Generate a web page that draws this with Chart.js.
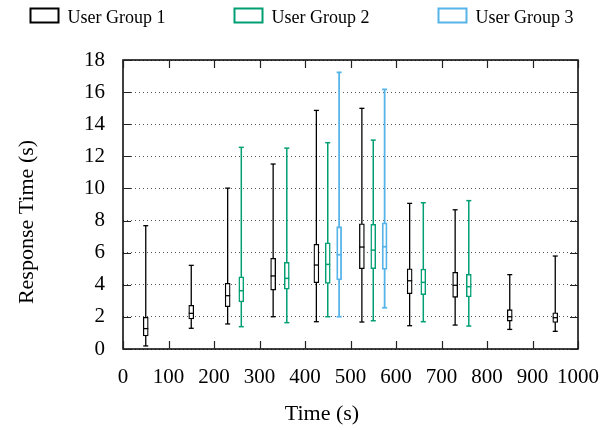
<!DOCTYPE html>
<html><head><meta charset="utf-8">
<script src="https://cdn.jsdelivr.net/npm/chart.js@4.4.1/dist/chart.umd.min.js"></script>
<style>html,body{margin:0;padding:0;background:#fff}</style>
</head><body>
<canvas id="c" width="615" height="430" style="width:615px;height:430px;display:block"></canvas>
<script>
// ---- data ----
const groupLabels = ['User Group 1', 'User Group 2', 'User Group 3'];
const groupColors = ['#000000', '#009e73', '#56b4e9'];

const g1Time = [50, 150, 230, 330, 425, 525, 630, 730, 850, 950];
const g1Min  = [0.19, 1.29, 1.56, 2.01, 1.70, 1.68, 1.45, 1.49, 1.22, 1.10];
const g1Q1   = [0.81, 1.87, 2.64, 3.67, 4.13, 5.00, 3.44, 3.22, 1.74, 1.66];
const g1Med  = [1.27, 2.22, 3.32, 4.55, 5.23, 6.35, 4.25, 3.97, 2.01, 1.95];
const g1Q3   = [1.97, 2.72, 4.09, 5.65, 6.52, 7.80, 5.00, 4.78, 2.45, 2.26];
const g1Max  = [7.68, 5.21, 10.02, 11.52, 14.86, 14.99, 9.07, 8.67, 4.63, 5.79];

const g2Time = [260, 360, 450, 550, 660, 760];
const g2Min  = [1.39, 1.64, 2.01, 1.76, 1.70, 1.43];
const g2Q1   = [2.93, 3.72, 4.09, 5.00, 3.38, 3.24];
const g2Med  = [3.63, 4.40, 5.27, 6.16, 4.15, 3.88];
const g2Q3   = [4.50, 5.40, 6.62, 7.76, 4.98, 4.65];
const g2Max  = [12.56, 12.51, 12.85, 13.01, 9.11, 9.24];

const g3Time = [475, 575];
const g3Min  = [2.01, 2.57];
const g3Q1   = [4.30, 4.96];
const g3Med  = [5.87, 6.37];
const g3Q3   = [7.62, 7.86];
const g3Max  = [17.23, 16.17];

const xTickValues = [0, 100, 200, 300, 400, 500, 600, 700, 800, 900, 1000];
const xTickLabels = ['0', '100', '200', '300', '400', '500', '600', '700', '800', '900', '1000'];
const yTickValues = [0, 2, 4, 6, 8, 10, 12, 14, 16, 18];
const yTickLabels = ['0', '2', '4', '6', '8', '10', '12', '14', '16', '18'];
const xTitle = 'Time (s)';
const yTitle = 'Response Time (s)';

// ---- build ----
const groups = [
  {time: g1Time, min: g1Min, q1: g1Q1, med: g1Med, q3: g1Q3, max: g1Max},
  {time: g2Time, min: g2Min, q1: g2Q1, med: g2Med, q3: g2Q3, max: g2Max},
  {time: g3Time, min: g3Min, q1: g3Q1, med: g3Med, q3: g3Q3, max: g3Max}
];
const lineWidths = [1.3, 1.5, 1.8];
const FONT = '"Liberation Serif", "Times New Roman", serif';

const datasets = groups.map((g, i) => ({
  label: groupLabels[i],
  data: g.time.map((t, k) => ({x: t, y: [g.q1[k], g.q3[k]]})),
  backgroundColor: '#ffffff',
  borderColor: groupColors[i],
  borderWidth: lineWidths[i],
  borderSkipped: false,
  barThickness: 5,
  grouped: false
}));

const boxPlugin = {
  id: 'boxParts',
  beforeDatasetsDraw(chart) {
    const {ctx, scales: {x, y}} = chart;
    ctx.save();
    groups.forEach((g, i) => {
      ctx.strokeStyle = groupColors[i];
      ctx.lineWidth = lineWidths[i];
      g.time.forEach((t, k) => {
        const px = x.getPixelForValue(t);
        ctx.beginPath();
        ctx.moveTo(px, y.getPixelForValue(g.min[k]));
        ctx.lineTo(px, y.getPixelForValue(g.max[k]));
        ctx.stroke();
      });
    });
    ctx.restore();
  },
  afterDatasetsDraw(chart) {
    const {ctx, scales: {x, y}} = chart;
    ctx.save();
    groups.forEach((g, i) => {
      ctx.strokeStyle = groupColors[i];
      ctx.lineWidth = lineWidths[i];
      g.time.forEach((t, k) => {
        const px = x.getPixelForValue(t);
        [g.min[k], g.max[k], g.med[k]].forEach(v => {
          const py = y.getPixelForValue(v);
          ctx.beginPath();
          ctx.moveTo(px - 2.5, py);
          ctx.lineTo(px + 2.5, py);
          ctx.stroke();
        });
      });
    });
    ctx.restore();
  },
  afterDraw(chart) {
    const {ctx, chartArea: a, scales: {x, y}} = chart;
    ctx.save();
    ctx.strokeStyle = '#000';
    ctx.lineWidth = 1.5;
    ctx.strokeRect(a.left, a.top, a.right - a.left, a.bottom - a.top);
    ctx.lineWidth = 1.2;
    ctx.strokeStyle = '#222';
    const tl = 8;
    xTickValues.forEach(v => {
      const px = Math.round(x.getPixelForValue(v)) + 0.5;
      ctx.beginPath();
      ctx.moveTo(px, a.bottom); ctx.lineTo(px, a.bottom - tl);
      ctx.moveTo(px, a.top); ctx.lineTo(px, a.top + tl);
      ctx.stroke();
    });
    yTickValues.forEach(v => {
      const py = Math.round(y.getPixelForValue(v)) + 0.5;
      ctx.beginPath();
      ctx.moveTo(a.left, py); ctx.lineTo(a.left + tl, py);
      ctx.moveTo(a.right, py); ctx.lineTo(a.right - tl, py);
      ctx.stroke();
    });
    ctx.fillStyle = '#000';
    ctx.font = '22px ' + FONT;
    ctx.textAlign = 'center';
    ctx.textBaseline = 'middle';
    ctx.fillText(xTitle, 322, 414);
    ctx.translate(27, 222);
    ctx.rotate(-Math.PI / 2);
    ctx.fillText(yTitle, 0, 0);
    ctx.restore();
    ctx.save();
    ctx.font = '18px ' + FONT;
    ctx.textAlign = 'left';
    ctx.textBaseline = 'alphabetic';
    chart.data.datasets.forEach((ds, i) => {
      const bx = 30.5 + i * 204;
      ctx.strokeStyle = groupColors[i];
      ctx.lineWidth = 2;
      ctx.strokeRect(bx, 8.5, 28, 14);
      ctx.fillStyle = '#000';
      ctx.fillText(ds.label, bx + 37, 23);
    });
    ctx.restore();
  }
};

new Chart(document.getElementById('c'), {
  type: 'bar',
  data: {datasets},
  options: {
    responsive: false,
    animation: false,
    devicePixelRatio: 1,
    layout: {padding: {top: 60, right: 33, left: 0, bottom: 0}},
    plugins: {legend: {display: false}, tooltip: {enabled: false}},
    scales: {
      x: {
        type: 'linear', min: 0, max: 1000, offset: false,
        afterBuildTicks: s => { s.ticks = xTickValues.map(v => ({value: v})); },
        afterFit: s => { s.height = 81; },
        grid: {display: false, drawTicks: false},
        border: {display: false},
        ticks: {color: '#000', padding: 16, maxRotation: 0, autoSkip: false,
                callback: (v, i) => xTickLabels[i],
                font: {family: FONT, size: 21}}
      },
      y: {
        type: 'linear', min: 0, max: 18,
        afterBuildTicks: s => { s.ticks = yTickValues.map(v => ({value: v})); },
        afterFit: s => { s.width = 123; },
        grid: {color: '#555', lineWidth: 1, drawTicks: false},
        border: {display: false, dash: [1, 3]},
        ticks: {color: '#000', padding: 18, callback: (v, i) => yTickLabels[i],
                font: {family: FONT, size: 21}}
      }
    }
  },
  plugins: [boxPlugin]
});
</script>
</body></html>
